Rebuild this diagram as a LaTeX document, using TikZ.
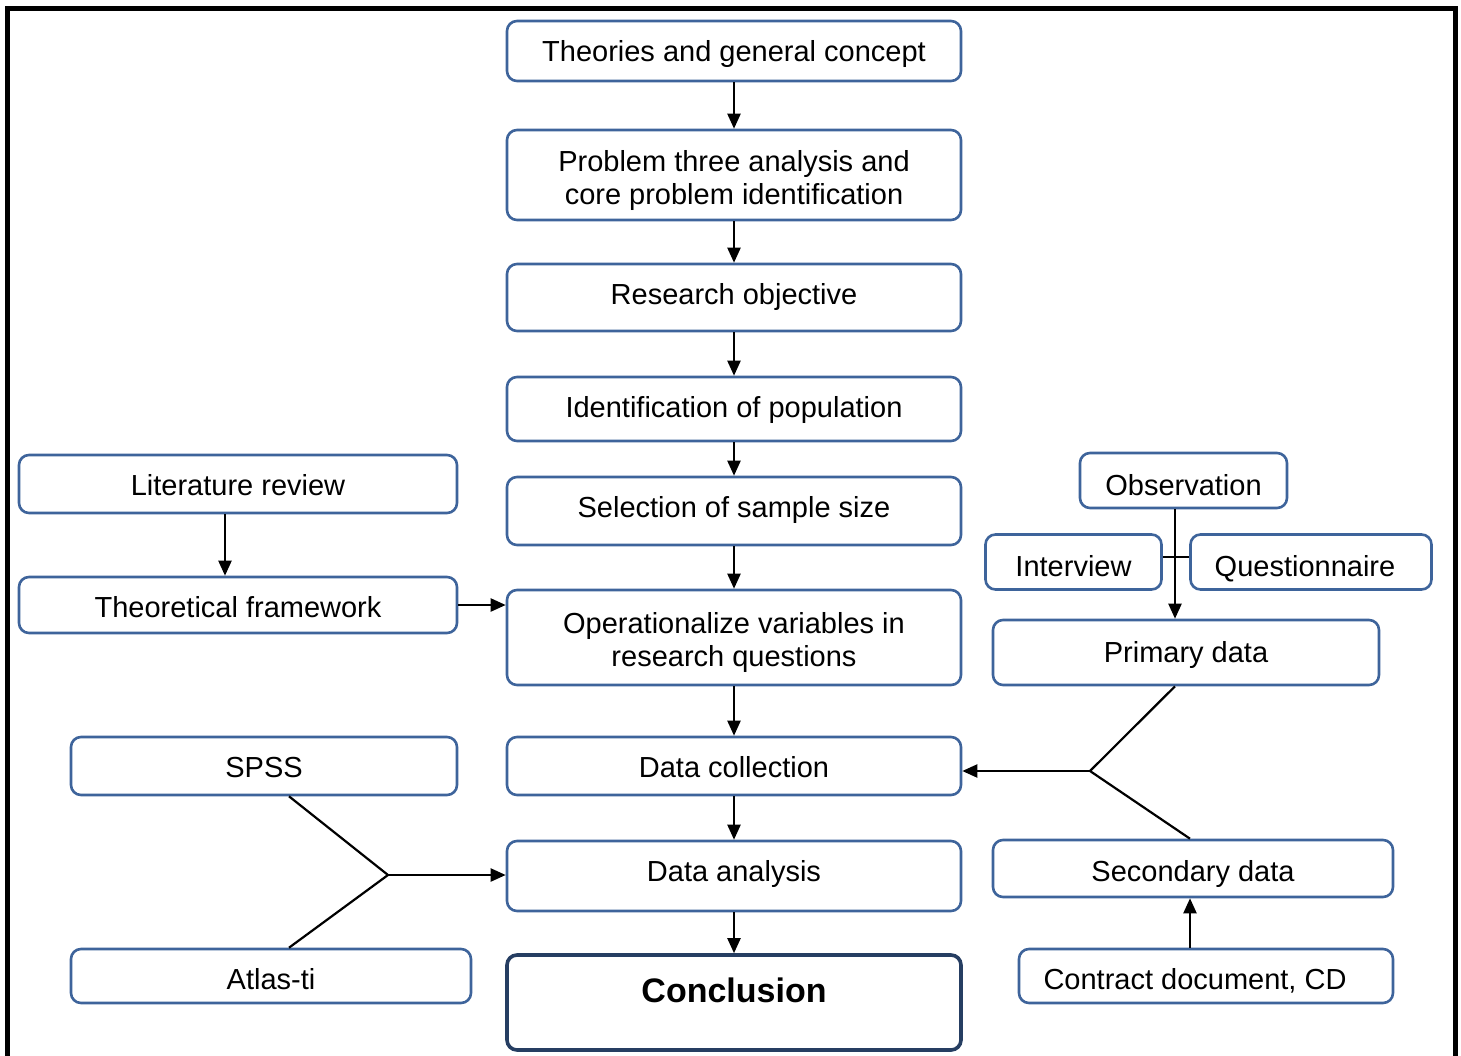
\documentclass[tikz,border=0pt]{standalone}
\usepackage{fontspec}
\setmainfont{Liberation Sans}
\usetikzlibrary{arrows.meta}
\definecolor{boxblue}{RGB}{62,100,155}
\definecolor{boxnavy}{RGB}{38,62,98}
\tikzset{
  box/.style={draw=boxblue, line width=2.6pt, rounded corners=10pt, fill=white,
    align=center, inner sep=0pt, font=\fontsize{29}{33}\selectfont},
  % text baseline placed a fixed distance below the top edge of the box
  tb/.style 2 args={text height=#1, text depth=#2},
  link/.style={draw=black, line width=2.2pt, line join=miter},
  arr/.style={link, -{Triangle[length=15pt,width=13pt]}},
}
\newcommand{\firstline}[1]{\rule{0pt}{#1}}
\begin{document}
\begin{tikzpicture}[x=1pt, y=-1pt]
\useasboundingbox (0,0) rectangle (1461,1055);
% outer frame, open at the bottom
\draw[line width=5pt] (7.5,1075) -- (7.5,8) -- (1455.5,8) -- (1455.5,1075);

% central column
\node[box, tb={40pt}{20pt}, minimum width=454pt, minimum height=60pt] (theo) at (734,51) {Theories and general concept};
\node[box, minimum width=454pt, minimum height=90pt] (prob) at (734,175) {\firstline{33pt}Problem three analysis and\\core problem identification};
\node[box, tb={40pt}{27pt}, minimum width=454pt, minimum height=67pt] (obj) at (734,297.5) {Research objective};
\node[box, tb={40pt}{24pt}, minimum width=454pt, minimum height=64pt] (pop) at (734,409) {Identification of population};
\node[box, tb={40pt}{28pt}, minimum width=454pt, minimum height=68pt] (samp) at (734,511) {Selection of sample size};
\node[box, minimum width=454pt, minimum height=95pt] (oper) at (734,637.5) {\firstline{30pt}Operationalize variables in\\research questions};
\node[box, tb={40pt}{18pt}, minimum width=454pt, minimum height=58pt] (coll) at (734,766) {Data collection};
\node[box, tb={40pt}{30pt}, minimum width=454pt, minimum height=70pt] (anal) at (734,876) {Data analysis};
\node[box, draw=boxnavy, line width=3.6pt, minimum width=454pt, minimum height=95pt,
      tb={25pt}{25pt}, font=\fontsize{34}{40}\selectfont\bfseries] (concl) at (734,1002.5) {Conclusion};

% left column
\node[box, tb={40pt}{18pt}, minimum width=438pt, minimum height=58pt] (lit) at (238,484) {Literature review};
\node[box, tb={40pt}{16pt}, minimum width=438pt, minimum height=56pt] (tf) at (238,605) {Theoretical framework};
\node[box, tb={40pt}{18pt}, minimum width=386pt, minimum height=58pt] (spss) at (264,766) {SPSS};
\node[box, tb={40pt}{14pt}, minimum width=400pt, minimum height=54pt] (atlas) at (271,976) {Atlas-ti};

% right column
\node[box, tb={42pt}{13pt}, minimum width=207pt, minimum height=55pt] (obs) at (1183.5,480.5) {Observation};
\node[box, tb={42pt}{13pt}, minimum width=176pt, minimum height=55pt] (intv) at (1073.5,562) {Interview};
\node[box, tb={42pt}{13pt}, minimum width=241pt, minimum height=55pt] (quest) at (1311,562) {\hspace*{-12pt}Questionnaire};
\node[box, tb={42pt}{23pt}, minimum width=386pt, minimum height=65pt] (prim) at (1186,652.5) {Primary data};
\node[box, tb={41pt}{16pt}, minimum width=400pt, minimum height=57pt] (sec) at (1193,868.5) {Secondary data};
\node[box, tb={40pt}{14pt}, minimum width=374pt, minimum height=54pt] (cd) at (1206,976) {\hspace*{-22pt}Contract document, CD};

% guide coordinates for connector positions
\coordinate (ox) at (1175,0);
\coordinate (sx) at (1190,0);
\coordinate (hy) at (0,557);
\coordinate (jr) at (1090,771);
\coordinate (lx) at (289,0);
\coordinate (jl) at (388,875);
\coordinate (litx) at (225,0);

% central flow
\draw[arr] (theo) -- (prob);
\draw[arr] (prob) -- (obj);
\draw[arr] (obj) -- (pop);
\draw[arr] (pop) -- (samp);
\draw[arr] (samp) -- (oper);
\draw[arr] (oper) -- (coll);
\draw[arr] (coll) -- (anal);
\draw[arr] (anal) -- (concl);

% left branch
\draw[arr] (lit.south -| litx) -- (tf.north -| litx);
\draw[arr] (tf.east) -- (oper.west |- tf.east);
\draw[link] (spss.south -| lx) -- (jl) -- (atlas.north -| lx);
\draw[arr] (jl) -- (anal.west |- jl);

% right branch
\draw[arr] (obs.south -| ox) -- (prim.north -| ox);
\draw[link] (intv.east |- hy) -- (quest.west |- hy);
\draw[link] (prim.south -| ox) -- (jr) -- (sec.north -| sx);
\draw[arr] (jr) -- (coll.east |- jr);
\draw[arr] (cd.north -| sx) -- (sec.south -| sx);
\end{tikzpicture}
\end{document}
